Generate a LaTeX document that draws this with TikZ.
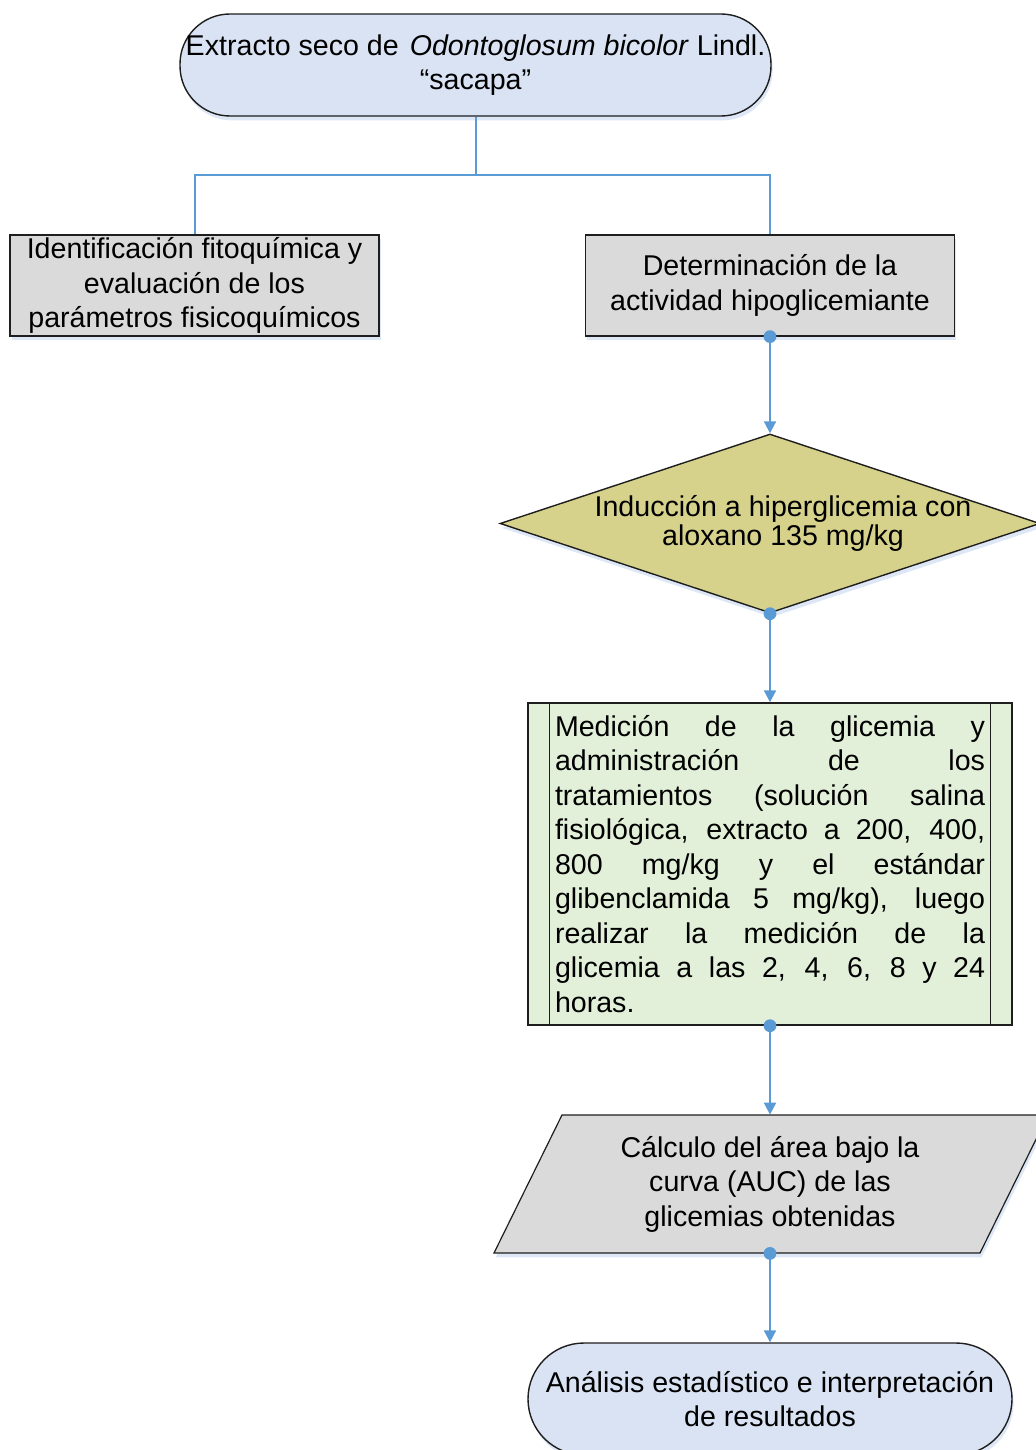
\documentclass[tikz,border=0pt]{standalone}
\usepackage{fontspec}
\setmainfont{Liberation Sans}
\usetikzlibrary{arrows.meta,shapes.geometric,shadows,backgrounds,calc}
\definecolor{termfill}{HTML}{DAE3F3}
\definecolor{grayfill}{HTML}{DADADA}
\definecolor{decfill}{HTML}{D6D28B}
\definecolor{greenfill}{HTML}{E2EFD9}
\definecolor{connc}{HTML}{5B9BD5}
\definecolor{edgec}{HTML}{1E1E1E}
\definecolor{shadowc}{HTML}{C3D4EC}
\tikzset{
  basefont/.style={font=\fontsize{14.3pt}{17.25pt}\selectfont},
  myshadow/.style={drop shadow={shadow xshift=0.8pt,shadow yshift=-2.2pt,fill=shadowc,opacity=0.55}},
  term/.style={basefont,draw=edgec,line width=0.7pt,fill=termfill,align=center,inner sep=0pt,myshadow},
  proc/.style={basefont,draw=edgec,line width=0.6pt,fill=grayfill,align=center,inner sep=0pt,
    minimum width=184.5pt,minimum height=50.5pt,myshadow},
  dec/.style={diamond,draw=edgec,line width=0.7pt,fill=decfill,inner sep=0pt,
    minimum width=270pt,minimum height=89.5pt,myshadow},
  gbox/.style={basefont,draw=edgec,line width=0.7pt,fill=greenfill,inner sep=0pt,
    minimum width=242pt,minimum height=161pt,text width=215pt,align=left},
  pshape/.style={draw=edgec,line width=0.6pt,fill=grayfill,myshadow},
  txt/.style={basefont,align=center,inner sep=0pt},
  conn/.style={draw=connc,line width=1pt},
  arr/.style={conn,-{Triangle[width=6pt,length=6pt]}},
  dotc/.style={fill=connc}
}
\newcommand{\jl}[1]{{\spaceskip=0pt\xspaceskip=0pt\makebox[215pt][s]{#1}}}
\begin{document}
\begin{tikzpicture}[x=0.5pt,y=-0.5pt]
\useasboundingbox (0,0) rectangle (1035,1450);

% nodes
\node[term,minimum width=295.5pt,minimum height=51pt,rounded corners=25pt] (T) at (475.5,65)
  {Extracto seco de\hspace{5.5pt}\textit{Odontoglosum bicolor} Lindl.\\“sacapa”};
\node[proc] (L) at (194.5,285.5) {Identificación fitoquímica y\\evaluación de los\\parámetros fisicoquímicos};
\node[proc] (R) at (770,285.5) {Determinación de la\\actividad hipoglicemiante};
\node[dec] (D) at (770,523.5) {};
\node[txt,font=\fontsize{14.3pt}{14.5pt}\selectfont] (Dt) at (783,523) {Inducción a hiperglicemia con\\aloxano 135 mg/kg};
\node[gbox] (G) at (770,864) {\jl{Medición de la glicemia y}\\
  \jl{administración de los}\\
  \jl{tratamientos (solución salina}\\
  \jl{fisiológica, extracto a 200, 400,}\\
  \jl{800 mg/kg y el estándar}\\
  \jl{glibenclamida 5 mg/kg), luego}\\
  \jl{realizar la medición de la}\\
  \jl{glicemia a las 2, 4, 6, 8 y 24}\\
  horas.};
\draw[edgec,line width=0.7pt] ([xshift=11pt]G.north west) -- ([xshift=11pt]G.south west);
\draw[edgec,line width=0.7pt] ([xshift=-11pt]G.north east) -- ([xshift=-11pt]G.south east);
\node[txt,minimum height=69pt] (P) at (770,1184) {Cálculo del área bajo la\\curva (AUC) de las\\glicemias obtenidas};
\begin{scope}[on background layer]
  \draw[pshape] ($(P.center)+(-208,-69)$) -- ($(P.center)+(278,-69)$) -- ($(P.center)+(210,69)$) -- ($(P.center)+(-276,69)$) -- cycle;
\end{scope}
\node[term,minimum width=242pt,minimum height=56pt,rounded corners=28pt] (B) at (770,1399)
  {Análisis estadístico e interpretación\\de resultados};

% connectors
\coordinate (J) at (475.5,175);
\draw[conn] (T.south) -- (J) -| (L.north);
\draw[conn] (J) -| (R.north);
\draw[arr] (R.south) -- (D.north);
\draw[arr] (D.south) -- (G.north);
\draw[arr] (G.south) -- (P.north);
\draw[arr] (P.south) -- (B.north);
\fill[dotc] (R.south) circle[radius=3.2pt];
\fill[dotc] (D.south) circle[radius=3.2pt];
\fill[dotc] (G.south) circle[radius=3.2pt];
\fill[dotc] (P.south) circle[radius=3.2pt];
\end{tikzpicture}
\end{document}
